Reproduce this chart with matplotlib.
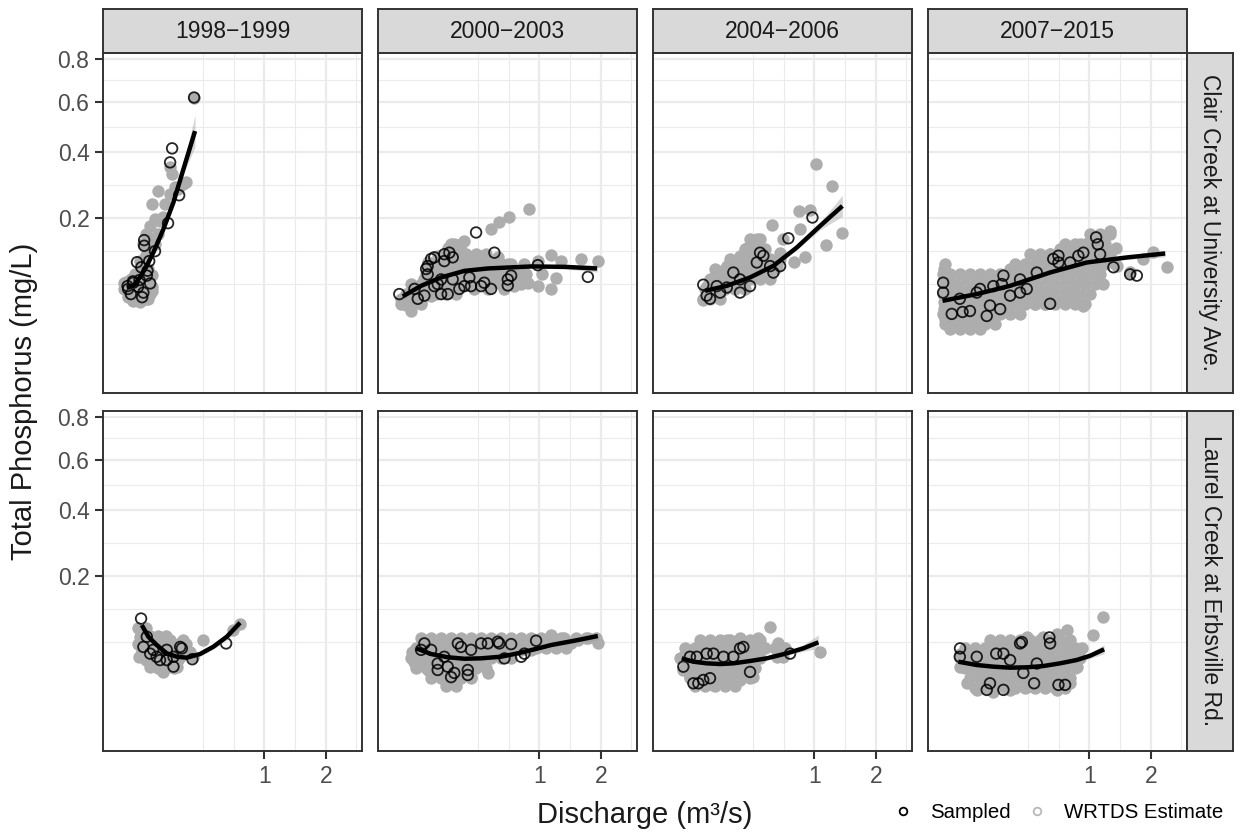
import matplotlib.pyplot as plt
from matplotlib.lines import Line2D
import numpy as np

plt.rcParams['font.family'] = ['Liberation Sans', 'DejaVu Sans']

periods = ['1998\u22121999', '2000\u22122003', '2004\u22122006', '2007\u22122015']
sites = ['Clair Creek at University Ave.', 'Laurel Creek at Erbsville Rd.']

# WRTDS estimates, (discharge m3/s, TP mg/L), one list per period
est_clair = [
    [(.0029, .062), (.0066, .051), (.013, .046), (.026, .045), (.041, .049), (.053, .055), (.0046, .072),
     (.010, .076), (.020, .066), (.033, .059), (.047, .069), (.016, .084), (.029, .089), (.009, .060),
     (.024, .052), (.059, .065), (.038, .080), (.047, .093), (.026, .107), (.041, .118), (.053, .130),
     (.069, .140), (.033, .140), (.059, .151), (.080, .162), (.041, .162), (.053, .181), (.069, .198),
     (.088, .193), (.10, .203), (.059, .237), (.080, .274), (.109, .237), (.133, .265), (.159, .285),
     (.204, .294), (.223, .30), (.133, .348), (.143, .326), (.175, .279), (.277, .618), (.018, .056),
     (.035, .050), (.012, .066), (.03, .072), (.022, .080)],
    [(.87, .225), (.637, .202), (.534, .190), (.455, .175), (.245, .147), (.182, .140), (.223, .127),
     (.146, .133), (1.166, .118), (1.316, .107), (1.644, .111), (1.945, .107), (1.24, .0775), (1.166, .0617),
     (.98, .107), (.809, .101), (.98, .066), (.851, .071), (.692, .066), (.585, .062), (.316, .111),
     (.369, .117), (.518, .114), (.62, .101), (.0046, .049), (.018, .035), (.073, .053), (.114, .057),
     (.203, .076), (.426, .062), (.025, .062), (.0505, .076), (.085, .087), (.129, .098), (.099, .117),
     (.061, .1045), (.164, .117), (.369, .093), (.268, .101), (.455, .082), (.656, .082), (.0325, .049),
     (.146, .066), (.223, .066), (.291, .082), (.316, .062), (.55, .071), (.76, .083), (1.03, .084),
     (.01, .042), (.04, .045), (.09, .07), (.18, .09), (.25, .085), (.35, .075), (.06, .09), (.2, .105),
     (.12, .08)],
    [(1.02, .361), (1.259, .289), (1.415, .164), (1.161, .139), (.88, .115), (.746, .106), (.809, .219),
     (.944, .222), (.818, .174), (.509, .183), (.375, .151), (.297, .133), (.249, .117), (.168, .098),
     (.117, .087), (.075, .066), (.063, .047), (.102, .053), (.150, .062), (.206, .071), (.272, .082),
     (.375, .098), (.462, .111), (.558, .098), (.627, .151), (.347, .123), (.187, .082), (.133, .071),
     (.249, .066), (.321, .082), (.592, .123), (.09, .075), (.2, .09), (.3, .10), (.42, .12), (.15, .08),
     (.22, .105), (.08, .058)],
    [(.0003, .076), (.0003, .055), (.0003, .037), (.0007, .027), (.0089, .023), (.026, .023), (.053, .027),
     (.088, .029), (.133, .032), (.187, .037), (.0037, .049), (.016, .043), (.038, .049), (.069, .043),
     (.109, .049), (.159, .055), (.0037, .069), (.026, .065), (.069, .069), (.133, .073), (.217, .076),
     (.0003, .093), (.249, .049), (.321, .046), (.402, .043), (.493, .043), (.592, .045), (.70, .049),
     (.818, .046), (.918, .040), (.217, .093), (.321, .096), (.446, .107), (.541, .120), (.645, .130),
     (.758, .134), (.88, .140), (1.011, .145), (1.151, .151), (1.30, .169), (.361, .076), (.493, .084),
     (.645, .096), (.818, .107), (1.011, .114), (1.151, .105), (1.379, .101), (1.195, .069), (1.41, .098),
     (1.858, .111), (2.32, .096), (2.046, .124), (1.626, .088), (1.40, .133), (.03, .035), (.05, .058),
     (.1, .038), (.16, .045), (.28, .062), (.4, .062), (.55, .058), (.75, .062), (.9, .075), (.42, .09),
     (.6, .11), (.29, .08), (.0003, .045), (.012, .03)],
]
est_laurel = [
    [(.0301, .088), (.034, .067), (.043, .053), (.075, .045), (.117, .039), (.168, .0375), (.088, .062),
     (.133, .072), (.206, .072), (.347, .072), (.272, .049), (.187, .049), (.70, .099), (.627, .088),
     (.026, .077), (.025, .049), (.053, .0375), (.102, .032), (.150, .058), (.03, .058), (.06, .058),
     (.1, .05), (.14, .047)],
    [(.0247, .043), (.0505, .072), (.099, .067), (.245, .067), (.369, .067), (.518, .067), (.656, .062),
     (.892, .058), (1.166, .080), (1.368, .075), (1.587, .072), (1.945, .067), (1.762, .075), (.426, .031),
     (.291, .027), (.164, .022), (.114, .027), (.061, .034), (.0325, .041), (.099, .041), (.203, .0375),
     (.342, .041), (.585, .049), (.77, .058), (.455, .049), (.98, .062), (1.475, .067), (.041, .053),
     (.182, .049), (.291, .053), (.02, .055), (.07, .06), (.13, .055), (.25, .045), (.4, .055), (.15, .03),
     (.06, .045)],
    [(.0136, .049), (.026, .058), (.102, .067), (.168, .072), (.249, .075), (.150, .058), (.249, .049),
     (.347, .0375), (.347, .027), (.249, .024), (.168, .022), (.102, .020), (.053, .022), (.026, .027),
     (.0136, .034), (.075, .0375), (.150, .034), (.228, .0375), (.388, .075), (.493, .093), (.574, .067),
     (.627, .049), (.558, .049), (1.08, .0555), (.375, .049), (.053, .049), (.117, .045), (.04, .06),
     (.2, .06), (.3, .06), (.08, .03), (.2, .03), (.3, .045)],
    [(.0164, .053), (.0164, .0375), (.030, .022), (.058, .0165), (.1245, .015), (.217, .0165), (.334, .019),
     (.477, .022), (.61, .0165), (.758, .022), (.058, .058), (.1245, .062), (.217, .067), (.334, .077),
     (.477, .077), (.61, .082), (.719, .088), (1.056, .080), (1.199, .111), (.541, .058), (.797, .058),
     (.838, .0375), (.058, .031), (.1585, .031), (.284, .041), (.417, .045), (.681, .0375), (.541, .031),
     (.095, .043), (.217, .0375), (.03, .045), (.1, .05), (.2, .05), (.35, .055), (.45, .06), (.9, .06),
     (.15, .02), (.4, .03), (.7, .05)],
]

# dense cores of the estimate clouds: (TP, [discharges at that TP])
core_clair = [
    [(.0486, [.0117, .0262, .0466]), (.059, [.0066, .0182, .0357, .059]),
     (.0704, [.0029, .0117, .0262, .0466]), (.0828, [.0182, .0357, .059])],
    [(.043, [.0046, .0182, .041]),
     (.055, [.0102, .0285, .0558, .0922, .1377, .1924]),
     (.069, [.0182, .041, .0729, .1138, .1639, .2231, .2914, .3688, .4553, .551, .6556, .7695]),
     (.084, [.0558, .0922, .1377, .1924, .2561, .3289, .4109, .502, .6021, .7114, .8298]),
     (.101, [.0729, .1138, .1639, .2231, .2914, .3688, .4553, .551, .6556]),
     (.120, [.1377, .1924, .2561, .3289, .4109]),
     (.140, [.1639, .2231])],
    [(.0486, [.0633, .0881, .1328]),
     (.0617, [.0693, .1093, .1585, .2168, .2842]),
     (.0764, [.0881, .1328, .1865, .2493, .3213, .4023, .4925]),
     (.0927, [.1093, .1585, .2168, .2842, .3607, .4463, .541]),
     (.1106, [.1865, .2493, .3213, .4023, .4925, .5917]),
     (.130, [.2842, .3607, .4463]),
     (.151, [.3213, .4023])],
    [(.019, [.0037, .0164, .0383, .0693]),
     (.0226, [.0007, .0089, .0262, .0526, .0881, .1328]),
     (.0318, [.0001, .0037, .0164, .0383, .0693, .1093, .1585, .2168, .2842]),
     (.0426, [.0007, .0089, .0262, .0526, .0881, .1328, .1865, .2493, .3213, .4023, .4925, .5917, .70,
              .8176, .9442]),
     (.055, [.0001, .0037, .0164, .0383, .0693, .1093, .1585, .2168, .2842, .3607, .4463, .541, .6448,
             .7577, .8797, 1.0108]),
     (.0689, [.0007, .0089, .0262, .0526, .0881, .1328, .1865, .2493, .3213, .4023, .4925, .5917, .70,
              .8176, .9442, 1.0798]),
     (.0844, [.0001, .0037, .0164, .0383, .0693, .1093, .1585, .2168, .2842, .3607, .4463, .541, .6448,
              .7577, .8797, 1.0108, 1.1511]),
     (.1014, [.0007, .2493, .3213, .4023, .4925, .5917, .70, .8176, .9442, 1.0798, 1.2245]),
     (.1201, [.3607, .4463, .541, .6448, .7577, .8797, 1.0108, 1.1511, 1.3005]),
     (.1403, [.70, .8176, .9442, 1.0798, 1.2245]),
     (.162, [1.0108, 1.1511, 1.3005])],
]
core_laurel = [
    [(.0912, [.022, .041]),
     (.0783, [.0308, .0526, .0803, .1138]),
     (.0661, [.022, .041, .0657, .0963, .1328, .175, .2231]),
     (.0551, [.0308, .0526, .0803, .1138, .1532, .1983, .2493]),
     (.0451, [.041, .0657, .0963, .1328, .175]),
     (.0361, [.0803, .1138, .1532])],
    [(.0750, [.041, .0729, .1138, .1639, .2231, .2914, .3688, .4553, .551, .6556, .7695, .8924, 1.0243,
              1.1656, 1.3158, 1.56, 1.73, 1.91]),
     (.0605, [.0285, .0558, .0922, .1377, .1924, .2561, .3289, .4109, .502, .6021, .7114, .8298, .957,
              1.094, 1.24, 1.39]),
     (.0475, [.0182, .041, .0729, .1138, .1639, .2231, .2914, .3688, .4553, .551, .6556]),
     (.0361, [.0285, .0558, .0922, .1377, .1924, .2561, .3289, .4109]),
     (.0262, [.0729, .1138, .1639, .2231, .2914]),
     (.0195, [.1377, .1924])],
    [(.072, [.0526, .0881, .1328, .1865, .2493, .3213, .4023]),
     (.0605, [.0164, .0383, .0693, .1093, .1585, .2168, .2842, .3607, .4463, .541, .6448]),
     (.0475, [.0089, .0262, .0526, .0881, .1328, .1865, .2493, .3213, .4023]),
     (.0361, [.0164, .0383, .0693, .1093, .1585, .2168, .2842, .3607]),
     (.0262, [.0262, .0526, .0881, .1328, .1865, .2493, .3213]),
     (.0195, [.0383, .0693, .1093, .1585, .2168])],
    [(.072, [.1093, .1585, .2168, .2842, .3607, .4463, .541, .6448, .7577]),
     (.0605, [.0262, .0526, .0881, .1328, .1865, .2493, .3213, .4023, .4925, .5917, .70, .8176]),
     (.0475, [.0164, .0383, .0693, .1093, .1585, .2168, .2842, .3607, .4463, .541, .6448, .7577, .8797]),
     (.0361, [.0262, .0526, .0881, .1328, .1865, .2493, .3213, .4023, .4925, .5917, .70, .8176]),
     (.0262, [.0383, .0693, .1093, .1585, .2168, .2842, .3607, .4463, .541, .6448, .7577]),
     (.0179, [.0526, .0881, .1328, .1865, .2493, .3213, .4023, .4925, .5917, .70])],
]

# sampled concentrations
smp_clair = [
    [(.277, .618), (.143, .414), (.133, .365), (.181, .262), (.123, .188), (.036, .149), (.036, .137),
     (.020, .105), (.029, .096), (.043, .082), (.013, .073), (.022, .065), (.0066, .062), (.010, .055),
     (.031, .051), (.053, .070), (.069, .126), (.050, .107), (.0136, .071), (.034, .057), (.006, .066),
     (.025, .075), (.045, .09)],
    [(.329, .166), (.486, .123), (.073, .111), (.056, .093), (.061, .084), (.155, .123), (.085, .066),
     (.279, .079), (.291, .066), (.369, .066), (.212, .062), (.62, .067), (.656, .082), (.98, .0997),
     (1.762, .080), (.0031, .055), (.0325, .049), (.146, .055), (.099, .069), (.129, .107), (.061, .098),
     (.085, .114), (.129, .120), (.173, .114), (.114, .076), (.173, .076), (.245, .066), (.395, .071),
     (.455, .062), (.62, .076), (.025, .062), (.0505, .053), (.114, .055)],
    [(.975, .202), (.681, .153), (.524, .087), (.063, .068), (.075, .053), (.168, .064), (.249, .076),
     (.375, .1045), (.431, .117), (.133, .057), (.592, .098), (.321, .066), (.117, .066), (.206, .087),
     (.402, .123), (.493, .098), (.088, .049), (.249, .057)],
    [(1.094, .155), (1.118, .140), (1.151, .120), (.858, .117), (.627, .117), (.627, .1045), (1.626, .084),
     (1.744, .082), (1.352, .096), (.541, .043), (.168, .069), (.0052, .032), (.038, .035), (.109, .041),
     (.217, .053), (.0002, .071), (.334, .062), (.069, .062), (.0002, .057), (.016, .049), (.058, .057),
     (.1245, .066), (.177, .082), (.284, .076), (.417, .087), (.573, .111), (.021, .034), (.095, .030),
     (.159, .037), (.284, .057), (.758, .1045), (.922, .123)],
]
smp_laurel = [
    [(.0285, .108), (.551, .067), (.265, .046), (.187, .062), (.043, .077), (.053, .053), (.075, .049),
     (.117, .045), (.034, .062), (.150, .0375), (.063, .058), (.117, .058), (.15, .049), (.197, .060),
     (.088, .045)],
    [(.957, .071), (.534, .067), (.656, .066), (.426, .067), (.268, .034), (.268, .029), (.146, .0375),
     (.223, .062), (.809, .053), (.585, .047), (.073, .058), (.099, .034), (.0505, .067), (.182, .031),
     (.041, .058), (.129, .049), (.203, .067), (.291, .058), (.369, .067), (.518, .0695), (.164, .027),
     (.099, .041), (.77, .049)],
    [(.0136, .0375), (.0475, .0216), (.088, .026), (.321, .032), (.272, .062), (.70, .053), (.026, .049),
     (.150, .049), (.075, .053), (.043, .049), (.102, .053), (.206, .049), (.249, .060), (.063, .0244),
     (.034, .0216)],
    [(.0164, .060), (.297, .069), (.534, .076), (.394, .0216), (.70, .0203), (.627, .0203), (.308, .031),
     (.095, .0165), (.177, .053), (.058, .049), (.1385, .053), (.217, .045), (.417, .041), (.109, .0216),
     (.177, .0165), (.284, .067), (.016, .049), (.541, .067)],
]

# smoothed fit with confidence band
fit_q_clair = [[.0052, .0136, .0262, .0429, .0633, .1019, .1495, .2062, .284],
               [.0062, .041, .1138, .2446, .4258, .8924, 1.3675, 1.932],
               [.0693, .1677, .3213, .5242, .7778, 1.0798, 1.415],
               [.0001, .058, .2168, .541, .9666, 1.570, 2.2846]]
fit_tp_clair = [[.0641, .0664, .0796, .0984, .1234, .1735, .2414, .3417, .4787],
                [.052, .0664, .0791, .0898, .0939, .0974, .0967, .0939],
                [.0594, .0664, .0791, .0984, .1334, .1813, .2321],
                [.0465, .055, .0664, .0871, .1045, .1138, .1214]]
fit_lo_clair = [[.060, .063, .077, .096, .120, .169, .233, .327, .42],
                [.048, .064, .077, .088, .092, .095, .093, .088],
                [.056, .064, .077, .096, .129, .172, .205],
                [.044, .053, .065, .085, .102, .110, .115]]
fit_hi_clair = [[.068, .069, .082, .101, .127, .178, .250, .357, .545],
                [.056, .069, .081, .092, .096, .100, .100, .100],
                [.063, .069, .081, .101, .137, .190, .262],
                [.049, .057, .068, .089, .107, .117, .128]]

fit_q_laurel = [[.0301, .0475, .0754, .117, .1677, .2276, .3213, .431, .558, .70],
                [.0285, .0729, .1464, .2446, .3688, .551, .7309, .935, 1.1656, 1.5297, 1.9453],
                [.0112, .0339, .0754, .1328, .2062, .3213, .4617, .6633, .8583, 1.056],
                [.0136, .058, .1245, .2168, .3344, .4765, .6448, .8384, 1.0108, 1.2097]]
fit_tp_laurel = [[.0963, .0771, .0647, .0534, .0491, .0479, .0525, .0623, .0771, .1004],
                 [.0601, .0525, .0484, .0466, .0471, .0491, .0534, .0587, .0647, .071, .0782],
                 [.0471, .0431, .0412, .0404, .0412, .0439, .0471, .0534, .0601, .0686],
                 [.0431, .0393, .0375, .0364, .0368, .0382, .0412, .0451, .0503, .0587]]
fit_lo_laurel = [[.090, .074, .062, .051, .047, .046, .050, .059, .072, .092],
                 [.057, .051, .047, .045, .046, .048, .052, .057, .062, .067, .072],
                 [.044, .041, .040, .039, .040, .043, .046, .051, .056, .060],
                 [.041, .038, .036, .035, .036, .037, .040, .043, .047, .053]]
fit_hi_laurel = [[.103, .080, .067, .056, .051, .050, .055, .066, .082, .108],
                 [.064, .054, .050, .048, .048, .050, .055, .061, .067, .075, .085],
                 [.050, .045, .043, .042, .042, .045, .048, .056, .065, .080],
                 [.045, .041, .039, .038, .038, .039, .043, .047, .054, .065]]

x_breaks = [1, 2]
y_breaks = [0.2, 0.4, 0.6, 0.8]


def fwd(v):
    v = np.asarray(v, dtype=float)
    return np.sign(v) * np.sqrt(np.abs(v))


def inv(v):
    v = np.asarray(v, dtype=float)
    return np.sign(v) * v ** 2


def minor_breaks(major, lim):
    # midpoints between majors in sqrt space, ggplot style
    b = fwd(major)
    bd = b[1] - b[0]
    lo, hi = fwd(lim[0]), fwd(lim[1])
    if lo < b[0]:
        b = np.r_[b[0] - bd, b]
    if hi > b[-1]:
        b = np.r_[b, b[-1] + bd]
    m = np.r_[b, (b[:-1] + b[1:]) / 2]
    m = m[(m > lo) & (m < hi)]
    m = m[~np.isin(np.round(m, 6), np.round(fwd(major), 6))]
    return inv(np.sort(m))


W, H = 1242, 832
fig = plt.figure(figsize=(W / 100, H / 100), dpi=100)


def px_axes(x0, y0, w, h):
    return fig.add_axes([x0 / W, 1 - (y0 + h) / H, w / W, h / H])


col_left = [103, 378, 653, 928]
row_top = [53, 411]
pw, ph = 259, 340
xlim = (-0.088 ** 2, 1.659 ** 2)
ylim = (-0.043 ** 2, 0.911 ** 2)
edge = '#333333'
pt_grey = '#ADADAD'

est = [est_clair, est_laurel]
core = [core_clair, core_laurel]
smp = [smp_clair, smp_laurel]
fq = [fit_q_clair, fit_q_laurel]
ftp = [fit_tp_clair, fit_tp_laurel]
flo = [fit_lo_clair, fit_lo_laurel]
fhi = [fit_hi_clair, fit_hi_laurel]

for i in range(2):
    for j in range(4):
        ax = px_axes(col_left[j], row_top[i], pw, ph)
        ax.set_xscale('function', functions=(fwd, inv))
        ax.set_yscale('function', functions=(fwd, inv))
        ax.set_xlim(*xlim)
        ax.set_ylim(*ylim)
        ax.set_xticks(x_breaks, [str(v) for v in x_breaks])
        ax.set_yticks(y_breaks, [str(v) for v in y_breaks])
        ax.set_xticks(minor_breaks(x_breaks, xlim), minor=True)
        ax.set_yticks(minor_breaks(y_breaks, ylim), minor=True)
        ax.grid(which='major', color='#EBEBEB', lw=1.6)
        ax.grid(which='minor', color='#EBEBEB', lw=0.8)
        ax.set_axisbelow(True)
        for s in ax.spines.values():
            s.set_color(edge)
            s.set_linewidth(1.4)
        ax.tick_params(which='minor', length=0)
        ax.tick_params(which='major', length=5.8, width=1.5, color=edge,
                       labelsize=16.5, labelcolor='#4D4D4D', pad=4)
        if i == 0:
            ax.tick_params(axis='x', length=0, labelbottom=False)
        if j > 0:
            ax.tick_params(axis='y', length=0, labelleft=False)

        cq = [q for tp, qs in core[i][j] for q in qs]
        ctp = [tp for tp, qs in core[i][j] for q in qs]
        ax.scatter(cq, ctp, s=80, color=pt_grey, lw=0, zorder=2)
        eq, etp = zip(*est[i][j])
        ax.scatter(eq, etp, s=80, color=pt_grey, lw=0, zorder=2)
        sq, stp = zip(*smp[i][j])
        ax.scatter(sq, stp, s=58, facecolors='none', edgecolors='black',
                   lw=1.3, alpha=0.85, zorder=3)
        ax.fill_between(fq[i][j], flo[i][j], fhi[i][j], color='#999999',
                        alpha=0.4, lw=0, zorder=4)
        ax.plot(fq[i][j], ftp[i][j], color='black', lw=3.2, zorder=5,
                solid_capstyle='butt')

# facet strips
for j, lab in enumerate(periods):
    sax = px_axes(col_left[j], 9, pw, 44)
    sax.set_facecolor('#D9D9D9')
    sax.set_xticks([])
    sax.set_yticks([])
    for s in sax.spines.values():
        s.set_color(edge)
        s.set_linewidth(1.4)
    sax.text(0.5, 0.5, lab, ha='center', va='center', fontsize=16.5,
             color='#1A1A1A', transform=sax.transAxes)

for i, lab in enumerate(sites):
    sax = px_axes(1187, row_top[i], 46, ph)
    sax.set_facecolor('#D9D9D9')
    sax.set_xticks([])
    sax.set_yticks([])
    for s in sax.spines.values():
        s.set_color(edge)
        s.set_linewidth(1.4)
    sax.text(0.5, 0.5, lab, ha='center', va='center', rotation=-90,
             fontsize=16.5, color='#1A1A1A', transform=sax.transAxes)

fig.text(645 / W, 1 - 815 / H, 'Discharge (m\u00b3/s)', ha='center', va='center',
         fontsize=21, color='#1A1A1A')
fig.text(24 / W, 1 - 401 / H, 'Total Phosphorus (mg/L)', ha='center', va='center',
         rotation=90, fontsize=21, color='#1A1A1A')

handles = [Line2D([], [], ls='none', marker='o', ms=5.5, mfc='none', mec='black', mew=1.3),
           Line2D([], [], ls='none', marker='o', ms=5.5, mfc='none', mec='#B8B8B8', mew=1.3)]
fig.legend(handles, ['Sampled', 'WRTDS Estimate'], ncol=2, loc='center',
           bbox_to_anchor=(1058 / W, 1 - 813 / H), frameon=False, fontsize=14.7,
           handlelength=1.0, handletextpad=0.8, columnspacing=0.8)

fig.savefig('out.png', dpi=100)
